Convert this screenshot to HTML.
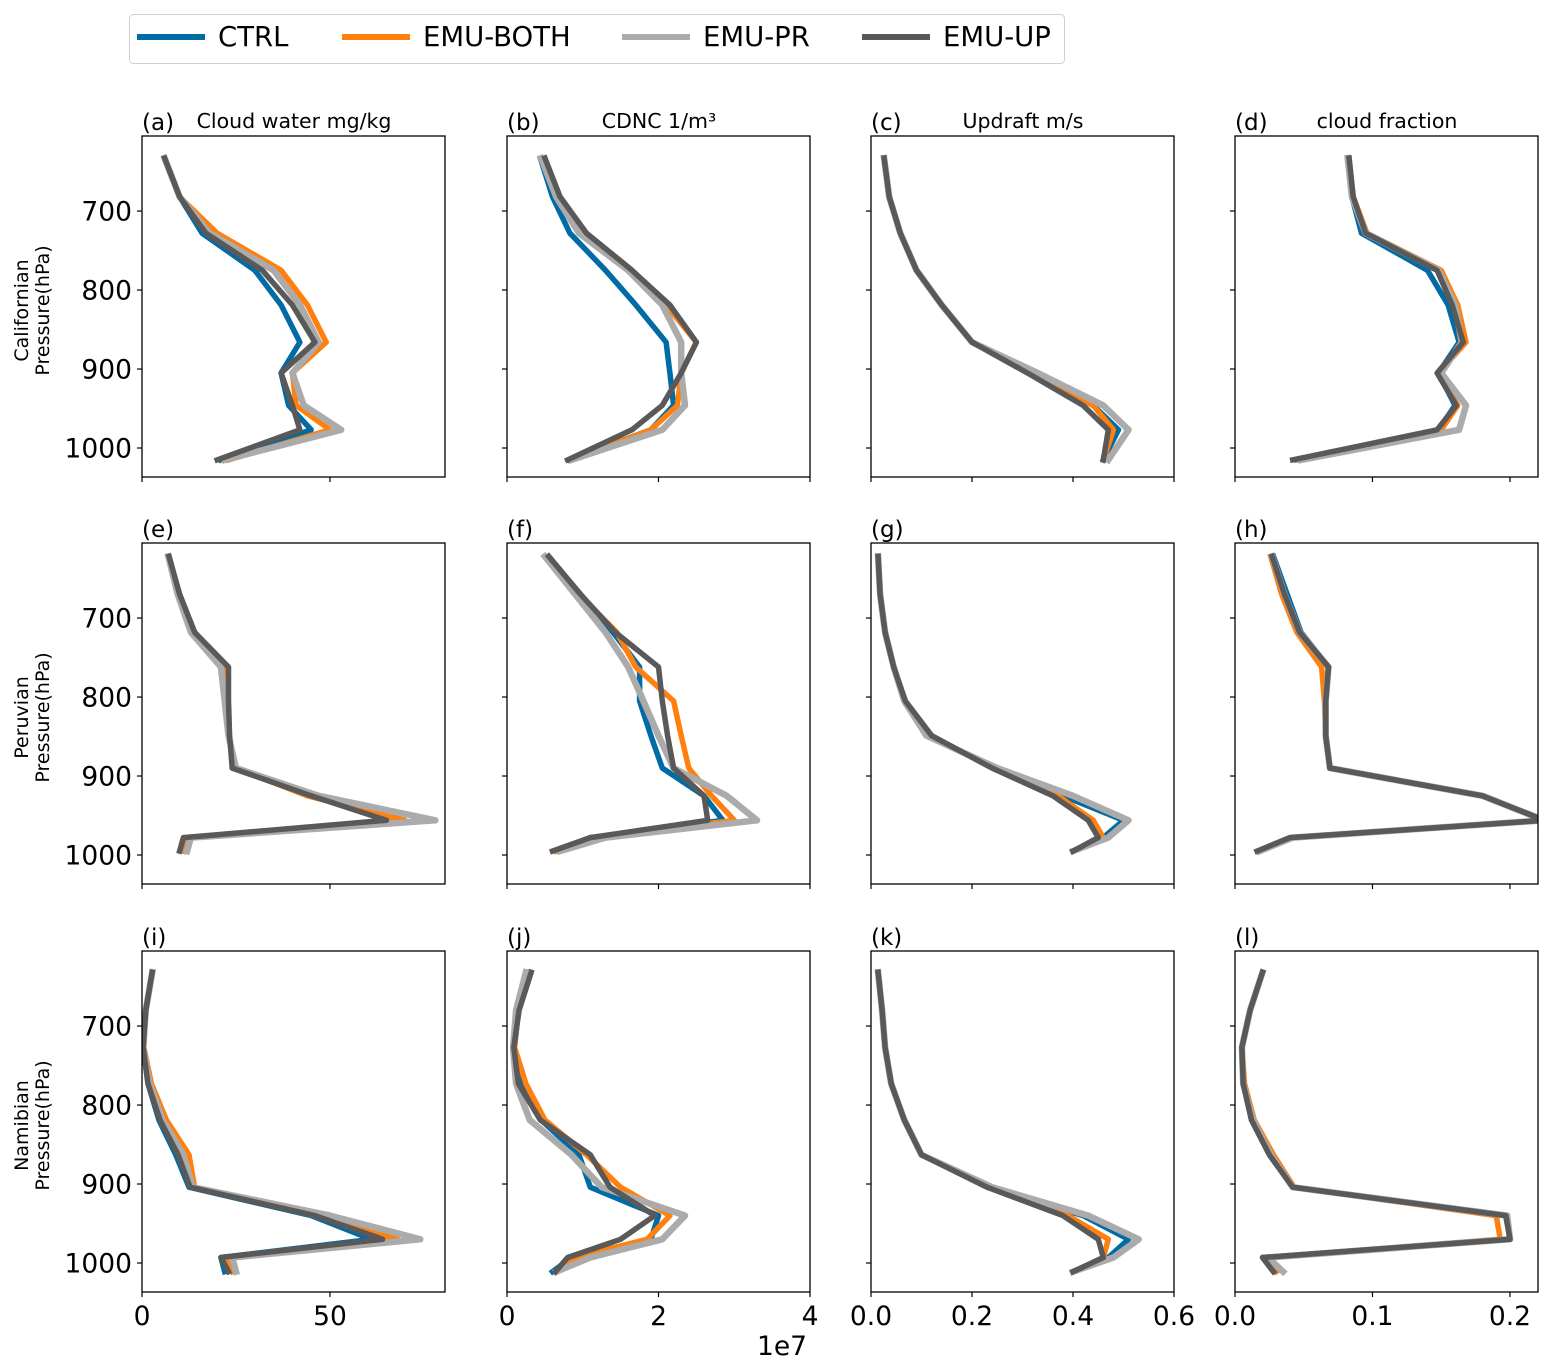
<!DOCTYPE html>
<html><head><meta charset="utf-8"><style>
html,body{margin:0;padding:0;background:#fff}
svg{display:block;font-family:"DejaVu Sans","Liberation Sans",sans-serif}
</style></head><body>
<svg id="chart" width="1552" height="1368" viewBox="0 0 1552 1368" xmlns="http://www.w3.org/2000/svg"></svg>
<script>
// pressure levels (hPa) per region
const levCal = [633,682,728,775,819,866,905,946,977,1015];
const levPer = [622,670,718,762,805,849,890,925,956,978,995];
const levNam = [632,680,727,773,819,863,904,940,970,993,1011];
// Californian
const calCwCtrl = [6,10,16,30,37,42,37,39,45,21];
const calCwBoth = [6,10,20,37,44,49,40,41,50,23];
const calCwPr   = [6,10,18,35,42,47,40,43,53,22];
const calCwUp   = [6,10,17,32,40,46,37,40,42,20];
const calCdCtrl = [0.44,0.6,0.83,1.3,1.7,2.1,2.15,2.2,1.9,0.83];
const calCdBoth = [0.5,0.7,1.05,1.65,2.1,2.5,2.3,2.25,1.9,0.85];
const calCdPr   = [0.45,0.65,0.95,1.6,2.05,2.3,2.3,2.35,2.05,0.85];
const calCdUp   = [0.5,0.7,1.05,1.65,2.15,2.5,2.3,2.05,1.65,0.8];
const calUdCtrl = [0.026,0.036,0.058,0.09,0.14,0.2,0.32,0.44,0.49,0.46];
const calUdBoth = [0.026,0.036,0.058,0.09,0.14,0.2,0.32,0.44,0.48,0.46];
const calUdPr   = [0.026,0.036,0.058,0.09,0.14,0.2,0.33,0.46,0.51,0.47];
const calUdUp   = [0.026,0.036,0.058,0.09,0.14,0.2,0.31,0.42,0.47,0.46];
const calCfCtrl = [0.082,0.085,0.092,0.14,0.155,0.163,0.148,0.16,0.148,0.045];
const calCfBoth = [0.083,0.086,0.096,0.15,0.162,0.168,0.148,0.162,0.15,0.045];
const calCfPr   = [0.082,0.085,0.095,0.148,0.16,0.165,0.15,0.168,0.163,0.048];
const calCfUp   = [0.083,0.086,0.095,0.147,0.158,0.166,0.147,0.161,0.147,0.042];
// Peruvian
const perCwCtrl = [7,10,14,22,22,23,25,45,66,12,11];
const perCwBoth = [7,10,13,22,22.5,23,25,44,70,12,11];
const perCwPr   = [7,9.5,13,21,22,23,25,47,78,13,12];
const perCwUp   = [7.2,10,14,23,23,23.3,24,45,65,11,10];
const perCdCtrl = [0.55,0.97,1.4,1.75,1.75,1.9,2.05,2.6,2.85,1.1,0.65];
const perCdBoth = [0.55,0.95,1.45,1.7,2.2,2.3,2.4,2.7,3.0,1.15,0.65];
const perCdPr   = [0.5,0.9,1.3,1.6,1.8,2.0,2.2,2.9,3.3,1.3,0.7];
const perCdUp   = [0.55,0.97,1.43,2.0,2.05,2.12,2.2,2.6,2.65,1.1,0.6];
const perUdCtrl = [0.014,0.018,0.028,0.045,0.068,0.12,0.24,0.38,0.5,0.46,0.4];
const perUdBoth = [0.014,0.018,0.028,0.045,0.068,0.12,0.24,0.37,0.44,0.46,0.4];
const perUdPr   = [0.014,0.018,0.028,0.045,0.066,0.11,0.25,0.4,0.51,0.47,0.4];
const perUdUp   = [0.014,0.018,0.028,0.045,0.068,0.12,0.24,0.36,0.43,0.45,0.4];
const perCfCtrl = [0.028,0.038,0.048,0.068,0.066,0.066,0.069,0.18,0.225,0.04,0.017];
const perCfBoth = [0.026,0.034,0.045,0.063,0.065,0.066,0.069,0.18,0.225,0.04,0.017];
const perCfPr   = [0.027,0.036,0.047,0.068,0.066,0.066,0.069,0.18,0.225,0.042,0.018];
const perCfUp   = [0.027,0.036,0.047,0.068,0.066,0.066,0.069,0.18,0.225,0.04,0.016];
// Namibian
const namCwCtrl = [2.7,1,0.3,1.6,4.5,9,12.5,45,61,21,22];
const namCwBoth = [2.7,1,0.5,2.5,6.5,12.5,14,46,68,22,24];
const namCwPr   = [2.7,1,0.3,2,5.5,11,13.5,50,74,24,25];
const namCwUp   = [2.7,1,0.3,1.6,4.8,9.6,12.8,46,64,21,23];
const namCdCtrl = [0.3,0.15,0.1,0.18,0.45,0.95,1.1,2.0,1.9,0.85,0.6];
const namCdBoth = [0.3,0.15,0.1,0.25,0.5,1.05,1.5,2.15,1.85,0.9,0.65];
const namCdPr   = [0.25,0.12,0.08,0.12,0.3,0.85,1.25,2.35,2.05,1.1,0.65];
const namCdUp   = [0.32,0.16,0.09,0.15,0.44,1.1,1.36,1.95,1.5,0.8,0.64];
const namUdCtrl = [0.014,0.022,0.028,0.04,0.066,0.1,0.23,0.42,0.51,0.47,0.4];
const namUdBoth = [0.014,0.022,0.028,0.04,0.066,0.1,0.23,0.39,0.47,0.46,0.4];
const namUdPr   = [0.014,0.022,0.028,0.04,0.066,0.1,0.24,0.43,0.53,0.48,0.4];
const namUdUp   = [0.014,0.022,0.028,0.04,0.066,0.1,0.23,0.38,0.45,0.46,0.4];
const namCfCtrl = [0.02,0.011,0.005,0.006,0.012,0.025,0.042,0.197,0.2,0.02,0.028];
const namCfBoth = [0.02,0.011,0.005,0.007,0.014,0.028,0.043,0.19,0.193,0.022,0.03];
const namCfPr   = [0.02,0.011,0.005,0.006,0.013,0.026,0.042,0.198,0.2,0.024,0.035];
const namCfUp   = [0.02,0.011,0.005,0.006,0.012,0.025,0.042,0.197,0.2,0.02,0.028];

const seriesNames = ['CTRL','EMU-BOTH','EMU-PR','EMU-UP'];
const yTicks = [700,800,900,1000];
const colTitles = ['Cloud water mg/kg','CDNC 1/m³','Updraft m/s','cloud fraction'];
const rowNames = ['Californian','Peruvian','Namibian'];
const xTickVals = [[0,50],[0,2,4],[0,0.2,0.4,0.6],[0,0.1,0.2]];
const xTickLabels = [['0','50'],['0','2','4'],['0.0','0.2','0.4','0.6'],['0.0','0.1','0.2']];
const letters = ['a','b','c','d','e','f','g','h','i','j','k','l'];

const colors = ['#006ba4','#ff800e','#ababab','#595959'];
const widths = [5.5,5.5,6.5,5.5];
const colX = [142,507,871,1235], panelW = 303;
const rowY = [136,543,951], panelH = 341;
const xMax = [80.6,4.0,0.6,0.2204];
const yMin = 605, yMax = 1036.7;
const levels = [levCal,levPer,levNam];
const data = [
 [[calCwCtrl,calCwBoth,calCwPr,calCwUp],[calCdCtrl,calCdBoth,calCdPr,calCdUp],[calUdCtrl,calUdBoth,calUdPr,calUdUp],[calCfCtrl,calCfBoth,calCfPr,calCfUp]],
 [[perCwCtrl,perCwBoth,perCwPr,perCwUp],[perCdCtrl,perCdBoth,perCdPr,perCdUp],[perUdCtrl,perUdBoth,perUdPr,perUdUp],[perCfCtrl,perCfBoth,perCfPr,perCfUp]],
 [[namCwCtrl,namCwBoth,namCwPr,namCwUp],[namCdCtrl,namCdBoth,namCdPr,namCdUp],[namUdCtrl,namUdBoth,namUdPr,namUdUp],[namCfCtrl,namCfBoth,namCfPr,namCfUp]]
];

const NS='http://www.w3.org/2000/svg';
const svg=document.getElementById('chart');
function mk(tag,attrs,parent){const e=document.createElementNS(NS,tag);for(const k in attrs)e.setAttribute(k,attrs[k]);(parent||svg).appendChild(e);return e;}
const defs=mk('defs',{});

// legend
const lg=mk('g',{});


mk('rect',{x:129.5,y:14.5,width:935,height:49,rx:4,fill:'#fff',stroke:'#d0d0d0','stroke-width':1},lg);
const legX=[137,342,622,862];
seriesNames.forEach((n,i)=>{
  const g=mk('g',{},lg);
  
  
  mk('line',{x1:legX[i],y1:37,x2:legX[i]+68,y2:37,stroke:colors[i],'stroke-width':6},g);
  const t=mk('text',{x:legX[i]+81,y:46,'font-size':27.5,fill:'#000'},g);t.textContent=n;
});

for(let r=0;r<3;r++){
  for(let c=0;c<4;c++){
    const px=colX[c], py=rowY[r], idx=r*4+c;
    const xs=v=>px+v/xMax[c]*panelW;
    const ys=p=>py+(p-yMin)/(yMax-yMin)*panelH;
    const g=mk('g',{});
    
    
    const cp=mk('clipPath',{id:'cp'+idx},defs);
    mk('rect',{x:px,y:py,width:panelW,height:panelH},cp);
    const sg=mk('g',{'clip-path':'url(#cp'+idx+')'},g);
    data[r][c].forEach((arr,s)=>{
      const pts=arr.map((v,k)=>xs(v).toFixed(1)+','+ys(levels[r][k]).toFixed(1)).join(' ');
      const pl=mk('polyline',{points:pts,fill:'none',stroke:colors[s],'stroke-width':widths[s],'stroke-linejoin':'round','stroke-linecap':'square'},sg);
      
      
    });
    mk('rect',{x:px,y:py,width:panelW,height:panelH,fill:'none',stroke:'#000','stroke-width':1.3},g);
    yTicks.forEach(t=>{
      const y=ys(t);
      mk('line',{x1:px-5,y1:y,x2:px,y2:y,stroke:'#000','stroke-width':1.2},g);
      if(c===0){const tl=mk('text',{x:px-10,y:y+9.5,'font-size':26.5,'text-anchor':'end'},g);tl.textContent=t;}
    });
    xTickVals[c].forEach((t,k)=>{
      const x=xs(t);
      mk('line',{x1:x,y1:py+panelH,x2:x,y2:py+panelH+5,stroke:'#000','stroke-width':1.2},g);
      if(r===2){const tl=mk('text',{x:x,y:py+panelH+33,'font-size':26.5,'text-anchor':'middle'},g);tl.textContent=xTickLabels[c][k];}
    });
    const lt=mk('text',{x:px,y:py-6,'font-size':23},g);lt.textContent='('+letters[idx]+')';
    if(r===0){const tt=mk('text',{x:px+152,y:py-8,'font-size':20.5,'text-anchor':'middle'},g);tt.textContent=colTitles[c];
      
      }
  }
  const cy=rowY[r]+panelH/2+4;
  const yl=mk('text',{transform:'translate(28,'+cy+') rotate(-90)','font-size':19,'text-anchor':'middle'});
  
  
  const t1=mk('tspan',{x:0,dy:0},yl);t1.textContent=rowNames[r];
  const t2=mk('tspan',{x:0,dy:21},yl);t2.textContent='Pressure(hPa)';
}
const ex=mk('text',{x:782,y:1355,'font-size':26.5,'text-anchor':'middle'});


ex.textContent='1e7';
</script>
</body></html>
